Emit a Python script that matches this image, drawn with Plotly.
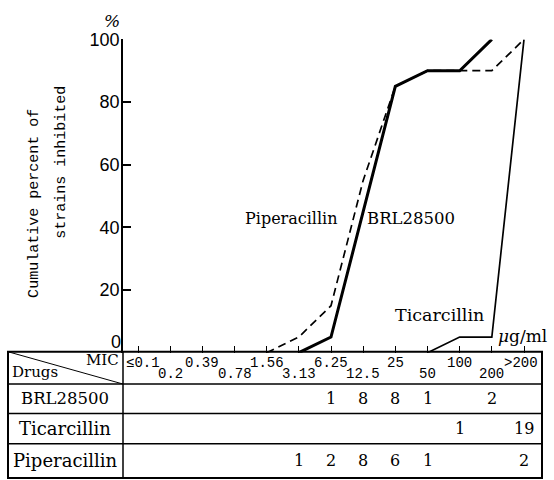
import numpy as np
import plotly.graph_objects as go

# MIC classes (µg/ml) and number of strains inhibited in each class
mic_labels = ["≤0.1", "0.2", "0.39", "0.78", "1.56", "3.13", "6.25",
              "12.5", "25", "50", "100", "200", ">200"]
drugs = ["BRL28500", "Ticarcillin", "Piperacillin"]
brl_counts = [0, 0, 0, 0, 0, 0, 1, 8, 8, 1, 0, 2, 0]
tic_counts = [0, 0, 0, 0, 0, 0, 0, 0, 0, 0, 1, 0, 19]
pip_counts = [0, 0, 0, 0, 0, 1, 2, 8, 6, 1, 0, 0, 2]
y_ticks = [0, 20, 40, 60, 80, 100]

W, H = 554, 480


def px(x):
    return x / W


def py(y):
    return 1 - y / H


def cumulative(counts):
    c = np.array(counts, dtype=float)
    cum = np.cumsum(c) / c.sum() * 100
    nz = np.nonzero(c)[0]
    start = max(nz[0] - 1, 0)
    end = nz[-1]
    idx = list(range(start, end + 1))
    return idx, [cum[i] for i in idx]


fig = go.Figure()

styles = {
    "BRL28500": dict(color="black", width=3),
    "Ticarcillin": dict(color="black", width=1.7),
    "Piperacillin": dict(color="black", width=1.7, dash="8px,5px"),
}
for name, counts in zip(drugs, [brl_counts, tic_counts, pip_counts]):
    xs, ys = cumulative(counts)
    fig.add_trace(go.Scatter(x=xs, y=ys, mode="lines", line=styles[name],
                             name=name, showlegend=False, hoverinfo="skip"))

serif = "DejaVu Serif"
mono = "Liberation Mono"
narrow = "Liberation Sans Narrow, Liberation Sans"

shapes = []
tl, tr, tt, tb = 8, 542, 349, 478
row_lines = [382, 412, 443]
line = dict(color="black", width=1.5)
shapes.append(dict(type="rect", xref="paper", yref="paper",
                   x0=px(tl), x1=px(tr), y0=py(tt), y1=py(tb),
                   line=dict(color="black", width=2)))
for r in row_lines:
    shapes.append(dict(type="line", xref="paper", yref="paper",
                       x0=px(tl), x1=px(tr), y0=py(r), y1=py(r), line=line))
shapes.append(dict(type="line", xref="paper", yref="paper",
                   x0=px(123), x1=px(123), y0=py(tt), y1=py(tb), line=line))
shapes.append(dict(type="line", xref="paper", yref="paper",
                   x0=px(tl), x1=px(123), y0=py(tt), y1=py(382),
                   line=dict(color="black", width=1)))


def label(x, y, text, size, family=serif, xanchor="center", angle=0):
    return dict(x=px(x), y=py(y), xref="paper", yref="paper", text=text,
                xanchor=xanchor, yanchor="middle", showarrow=False,
                textangle=angle, borderpad=0,
                font=dict(family=family, size=size, color="black"))


ann = []
# header cell
ann.append(label(120, 357, "MIC", 15, xanchor="right"))
ann.append(label(11, 370, "Drugs", 15, xanchor="left"))
# MIC column labels, staggered
for i, lab in enumerate(mic_labels):
    yy = 360 if i % 2 == 0 else 372
    shift = 5 if i == 0 else (-3 if i == len(mic_labels) - 1 else 0)
    ann.append(dict(x=i, y=py(yy), xref="x", yref="paper", text=lab,
                    xanchor="center", yanchor="middle", showarrow=False,
                    xshift=shift, borderpad=0,
                    font=dict(family=mono, size=14, color="black")))
# drug rows
row_centers = [397, 427.5, 460]
name_sizes = [16.5, 18, 18]
for name, counts, yc, fs in zip(drugs, [brl_counts, tic_counts, pip_counts],
                                row_centers, name_sizes):
    ann.append(label(65, yc, name, fs))
    for i, c in enumerate(counts):
        if c:
            ann.append(dict(x=i, y=py(yc), xref="x", yref="paper", text=str(c),
                            xanchor="center", yanchor="middle", showarrow=False,
                            font=dict(family=serif, size=16, color="black")))

# curve labels
ann.append(label(339, 213, "Piperacillin", 16, xanchor="right"))
ann.append(label(366, 213, "BRL28500", 16.5, xanchor="left"))
ann.append(label(394, 311, "Ticarcillin", 17.5, xanchor="left"))
ann.append(label(497, 333, "<i>μ</i>g/ml", 17, xanchor="left"))
ann.append(label(112, 11, "<i>%</i>", 17))
# zero label sits slightly above the baseline
ann.append(label(122, 339, "0", 18, family=narrow, xanchor="right"))
# y-axis title (two lines)
ann.append(label(35, 198, "Cumulative percent of", 15, family=mono, angle=-90))
ann.append(label(62, 156, "strains inhibited", 15, family=mono, angle=-90))

x0_px, step = 138, (524 - 138) / 12
fig.update_layout(
    width=W, height=H,
    margin=dict(l=0, r=0, t=0, b=0),
    paper_bgcolor="white", plot_bgcolor="white",
    shapes=shapes, annotations=ann,
    xaxis=dict(domain=[px(123), px(542)],
               range=[(123 - x0_px) / step, (542 - x0_px) / step],
               tickvals=list(range(len(mic_labels))), showticklabels=False,
               ticks="inside", ticklen=7, tickwidth=1.3, tickcolor="black",
               showline=False, showgrid=False, zeroline=False),
    yaxis=dict(domain=[py(350), py(30)], range=[0, 100],
               tickvals=y_ticks, ticktext=[""] + [str(v) for v in y_ticks[1:]],
               ticks="inside", ticklen=8, tickwidth=1.5,
               tickcolor="black", showline=True, linecolor="black", linewidth=1.6,
               showgrid=False, zeroline=False, ticklabelstandoff=-2,
               tickfont=dict(family=narrow, size=18, color="black")),
)

fig.write_html("out.html")
